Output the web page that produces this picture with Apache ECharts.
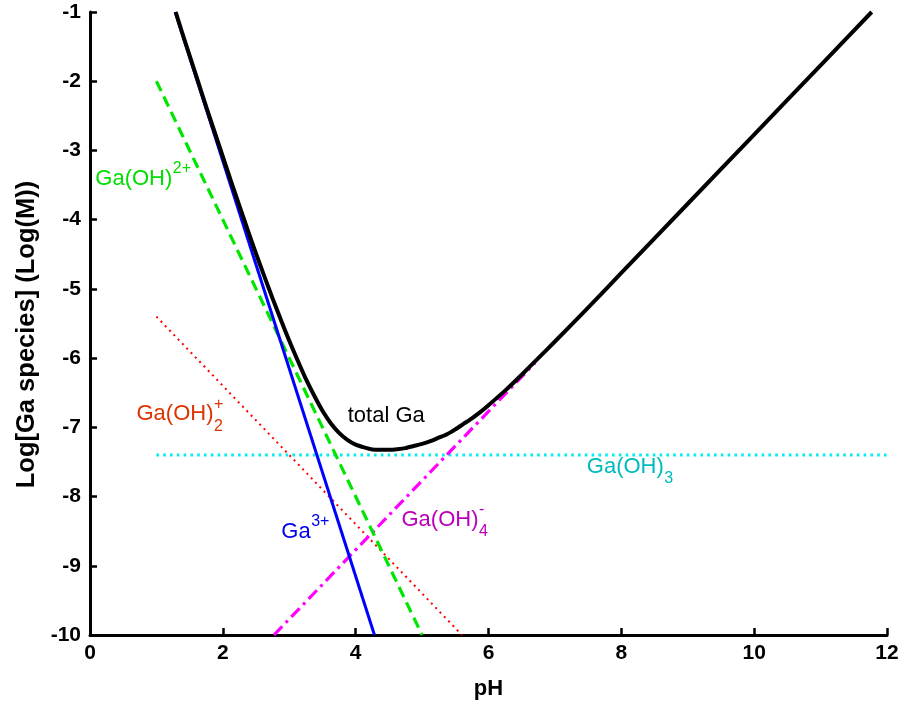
<!DOCTYPE html>
<html>
<head>
<meta charset="utf-8">
<script src="https://cdn.jsdelivr.net/npm/echarts@6/dist/echarts.min.js"></script>
<style>
html,body{margin:0;padding:0;background:#fff;}
#chart{width:910px;height:705px;}
</style>
</head>
<body>
<div id="chart"></div>
<script>
// ---- data ----
const xTicks = [0, 2, 4, 6, 8, 10, 12];
const yTicks = [-10, -9, -8, -7, -6, -5, -4, -3, -2, -1];

const ga3_pH   = [1.283, 4.283];
const ga3_log  = [-1.0, -10.0];

const gaOH_pH  = [1.0, 5.0];
const gaOH_log = [-2.0, -10.0];

const gaOH2_pH  = [1.0, 5.6];
const gaOH2_log = [-5.4, -10.0];

const gaOH3_pH  = [1.0, 12.0];
const gaOH3_log = [-7.4, -7.4];

const gaOH4_pH  = [2.77, 6.7];
const gaOH4_log = [-10.0, -6.07];

const total_pH  = [1.29, 1.375, 1.5, 1.625, 1.75, 1.875, 2.0, 2.125, 2.25, 2.375, 2.5, 2.625, 2.75, 2.875, 3.0, 3.125, 3.25, 3.375, 3.5, 3.625, 3.75, 3.875, 4.0, 4.125, 4.25, 4.375, 4.5, 4.625, 4.75, 4.875, 5.0, 5.125, 5.25, 5.375, 5.5, 5.625, 5.75, 5.875, 6.0, 6.25, 6.5, 6.75, 7.0, 7.5, 8.0, 9.0, 10.0, 11.0, 11.77];
const total_log = [-1.0, -1.26, -1.63, -2.00, -2.37, -2.73, -3.09, -3.45, -3.80, -4.15, -4.49, -4.82, -5.14, -5.45, -5.75, -6.03, -6.30, -6.54, -6.76, -6.94, -7.08, -7.18, -7.25, -7.29, -7.32, -7.325, -7.324, -7.315, -7.30, -7.27, -7.24, -7.20, -7.15, -7.10, -7.03, -6.95, -6.87, -6.78, -6.68, -6.47, -6.24, -6.00, -5.76, -5.27, -4.77, -3.77, -2.77, -1.77, -1.0];

function pairs(xs, ys){ return xs.map((x,i)=>[x, ys[i]]); }

const FONT = '"Liberation Sans", Arial, Helvetica, sans-serif';

const chart = echarts.init(document.getElementById('chart'), null, {renderer:'canvas'});

function mkLine(name, xs, ys, color, width, type, z, smooth){
  return {
    name, type:'line', data: pairs(xs, ys), symbol:'none', z: z, smooth: smooth || false,
    lineStyle:{color, width, type, cap:'butt', join:'round'}, animation:false, clip:true
  };
}

chart.setOption({
  animation:false,
  backgroundColor:'#fff',
  grid:{left:90, right:23, top:12, bottom:66, containLabel:false},
  xAxis:{
    type:'value', min:0, max:12, interval:2,
    name:'pH', nameLocation:'middle', nameGap:43,
    nameTextStyle:{fontFamily:FONT, fontWeight:'bold', fontSize:22, color:'#000'},
    axisLine:{onZero:false, lineStyle:{color:'#000', width:3}},
    axisTick:{inside:true, length:7, lineStyle:{color:'#000', width:2.5}},
    axisLabel:{margin:8, fontFamily:FONT, fontWeight:'bold', fontSize:21, color:'#000',
      formatter: v => xTicks.includes(v) ? String(v) : ''},
    splitLine:{show:false}
  },
  yAxis:{
    type:'value', min:-10, max:-1, interval:1,
    name:'Log[Ga species] (Log(M))', nameLocation:'middle', nameGap:44,
    nameTextStyle:{fontFamily:FONT, fontWeight:'bold', fontSize:25.5, color:'#000', padding:[0, 22, 0, 0]},
    axisLine:{onZero:false, lineStyle:{color:'#000', width:3}},
    axisTick:{inside:true, length:7, lineStyle:{color:'#000', width:2.5}},
    axisLabel:{margin:9, fontFamily:FONT, fontWeight:'bold', fontSize:21, color:'#000',
      formatter: v => yTicks.includes(v) ? String(v) : ''},
    splitLine:{show:false}
  },
  series:[
    mkLine('Ga(OH)3', gaOH3_pH, gaOH3_log, '#00eeee', 3, [2.6, 4.2], 1),
    mkLine('Ga(OH)2+', gaOH2_pH, gaOH2_log, '#ff0000', 2, [2, 4.2], 2),
    mkLine('Ga(OH)4-', gaOH4_pH, gaOH4_log, '#ff00ff', 3.2, [12, 5, 3, 5], 3),
    mkLine('Ga(OH)2+ green', gaOH_pH, gaOH_log, '#00e600', 3.2, [11, 6], 4),
    mkLine('Ga3+', ga3_pH, ga3_log, '#0000ff', 3, 'solid', 5),
    mkLine('total Ga', total_pH, total_log, '#000000', 4, 'solid', 6, 0.2)
  ]
});

// ---- annotations ----
const notes = [
  {x:0.08, y:-3.41, base:'Ga(OH)', sup:'2+', color:'#00dd00'},
  {x:0.70, y:-6.81, base:'Ga(OH)', sup:'+', sub:'2', color:'#dd3300'},
  {x:3.88, y:-6.84, base:'total Ga', color:'#000000'},
  {x:7.48, y:-7.57, base:'Ga(OH)', sub:'3', color:'#00bbbb'},
  {x:2.88, y:-8.51, base:'Ga', sup:'3+', color:'#0000ee'},
  {x:4.69, y:-8.34, base:'Ga(OH)', sup:'-', sub:'4', color:'#bb00bb'}
];

const cvs = document.createElement('canvas');
const ctx = cvs.getContext('2d');
const BASE_SIZE = 22, SMALL = 16;
ctx.font = BASE_SIZE + 'px ' + FONT;

const graphics = [];
notes.forEach(n => {
  const p = chart.convertToPixel({gridIndex:0}, [n.x, n.y]);
  const w = ctx.measureText(n.base).width;
  graphics.push({type:'text', x:p[0], y:p[1], z:100, silent:true,
    style:{text:n.base, fill:n.color, font: BASE_SIZE + 'px ' + FONT, textAlign:'left', textVerticalAlign:'middle'}});
  if (n.sup) graphics.push({type:'text', x:p[0]+w+0.5, y:p[1]-10, z:100, silent:true,
    style:{text:n.sup, fill:n.color, font: SMALL + 'px ' + FONT, textAlign:'left', textVerticalAlign:'middle'}});
  if (n.sub) graphics.push({type:'text', x:p[0]+w+0.5, y:p[1]+12, z:100, silent:true,
    style:{text:n.sub, fill:n.color, font: SMALL + 'px ' + FONT, textAlign:'left', textVerticalAlign:'middle'}});
});
chart.setOption({graphic: graphics});
</script>
</body>
</html>
